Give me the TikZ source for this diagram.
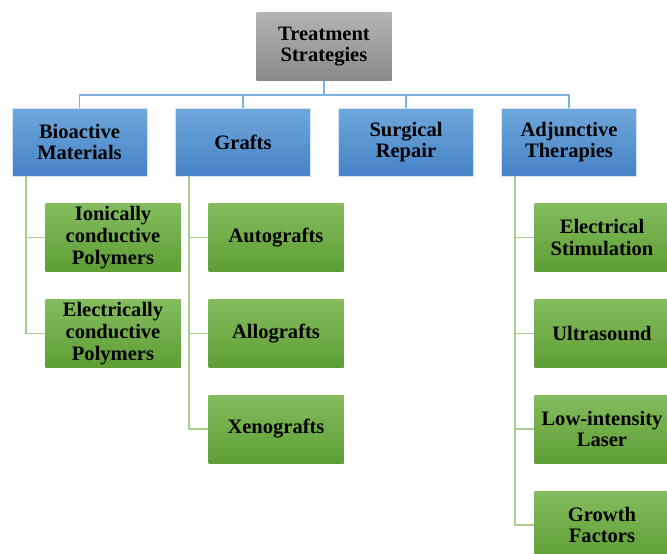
\documentclass[tikz,border=0pt]{standalone}
\usepackage{fontspec}
\setmainfont{Liberation Serif}
\definecolor{gtop}{HTML}{B4B4B4}
\definecolor{gbot}{HTML}{8A8A8A}
\definecolor{btop}{HTML}{6FA8DC}
\definecolor{bbot}{HTML}{4682C6}
\definecolor{ltop}{HTML}{84BC5E}
\definecolor{lbot}{HTML}{5E9E34}
\definecolor{bline}{HTML}{7EB0E0}
\definecolor{lline}{HTML}{A9D18E}
\tikzset{
  base/.style={minimum width=101.25pt, minimum height=51pt, inner sep=0pt,
    align=center, font=\fontsize{15.4}{16.4}\selectfont\bfseries, text=black},
  topbox/.style={base, top color=gtop, bottom color=gbot},
  bluebox/.style={base, top color=btop, bottom color=bbot, draw=white!70!btop, line width=0.5pt},
  greenbox/.style={base, top color=ltop, bottom color=lbot},
  bconn/.style={draw=bline, line width=1pt},
  gconn/.style={draw=lline, line width=1.2pt}
}
\begin{document}
\begin{tikzpicture}[x=0.75pt,y=-0.75pt]
\useasboundingbox (0,0) rectangle (667,553);
\clip (0,0) rectangle (667,553);
\node[topbox] (top) at (324,46.5) {Treatment\\Strategies};
\node[bluebox] (bio) at (79.5,142) {Bioactive\\Materials};
\node[bluebox] (gra) at (243,142) {Grafts};
\node[bluebox] (sur) at (406,142) {Surgical\\Repair};
\node[bluebox] (adj) at (569,142) {Adjunctive\\Therapies};
\node[greenbox] (ion) at (113,237.5) {Ionically\\conductive\\Polymers};
\node[greenbox] (ele) at (113,333.5) {Electrically\\conductive\\Polymers};
\node[greenbox] (aut) at (276,237.5) {Autografts};
\node[greenbox] (all) at (276,333.5) {Allografts};
\node[greenbox] (xen) at (276,429) {Xenografts};
\node[greenbox] (est) at (602,237.5) {Electrical\\Stimulation};
\node[greenbox] (ult) at (602,333.5) {Ultrasound};
\node[greenbox] (low) at (602,429) {Low-intensity\\Laser};
\node[greenbox] (gro) at (602,525) {Growth\\Factors};
\coordinate (bus) at (324,95);
\draw[bconn] (top.south) -- (bus);
\draw[bconn] (bio.north) |- (bus) -| (adj.north);
\draw[bconn] (gra.north) -- (gra.north |- bus);
\draw[bconn] (sur.north) -- (sur.north |- bus);
\coordinate (bx) at (26,176);
\coordinate (gx) at (189,176);
\coordinate (ax) at (515,176);
\draw[gconn] (bx) |- (ele.west);
\draw[gconn] (bx |- ion.west) -- (ion.west);
\draw[gconn] (gx) |- (xen.west);
\draw[gconn] (gx |- aut.west) -- (aut.west);
\draw[gconn] (gx |- all.west) -- (all.west);
\draw[gconn] (ax) |- (gro.west);
\draw[gconn] (ax |- est.west) -- (est.west);
\draw[gconn] (ax |- ult.west) -- (ult.west);
\draw[gconn] (ax |- low.west) -- (low.west);
\end{tikzpicture}
\end{document}
